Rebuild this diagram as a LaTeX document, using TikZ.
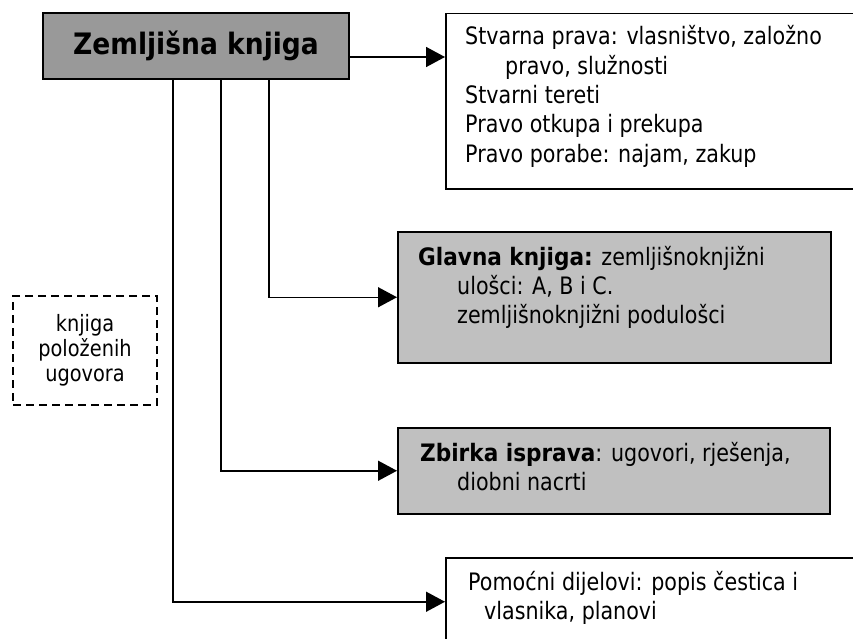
\documentclass[tikz,border=0pt]{standalone}
\usepackage{fontspec}
\setmainfont{DejaVu Sans}[FakeStretch=0.86, BoldFeatures={FakeStretch=0.9}]
\usetikzlibrary{arrows.meta}

\definecolor{darkfill}{HTML}{999999}
\definecolor{lightfill}{HTML}{C0C0C0}

\tikzset{
  box/.style={draw=black, line width=1.5pt, rectangle, inner sep=0pt},
  dashbox/.style={draw=black, line width=1.3pt, dash pattern=on 8pt off 5pt, rectangle, inner sep=0pt},
  conn/.style={line width=1.5pt, -{Triangle[length=19pt,width=20pt]}},
  body/.style={font=\fontsize{24}{29.3}\selectfont, inner sep=0pt, anchor=base west},
}

\begin{document}
\begin{tikzpicture}[x=1pt,y=-1pt]
\clip (0,0) rectangle (853,639);
\fill[white] (0,0) rectangle (853,639);

% main heading box
\node[box, fill=darkfill, minimum width=306pt, minimum height=66pt,
      font=\fontsize{29.5}{36}\selectfont\bfseries] (main) at (196,46) {Zemljišna knjiga};

% content boxes
\node[box, anchor=north west, minimum width=440pt, minimum height=175pt] (stv) at (445,13) {};
\node[box, fill=lightfill, anchor=north west, minimum width=433pt, minimum height=131pt] (glav) at (397,231) {};
\node[box, fill=lightfill, anchor=north west, minimum width=432pt, minimum height=86pt] (zbir) at (397,427) {};
\node[box, anchor=north west, minimum width=440pt, minimum height=88pt] (pom) at (445,557) {};

% side note box
\node[dashbox, minimum width=144pt, minimum height=109pt, align=center,
      font=\fontsize{22.5}{25}\selectfont] (knj) at (85,350.5) {knjiga\\položenih\\ugovora};

% box texts
\node[body] (stvtext) at (465,45) {\parbox[t]{400pt}{\parindent=0pt
  Stvarna prava: vlasništvo, založno\par
  \hspace*{40pt}pravo, služnosti\par
  Stvarni tereti\par
  Pravo otkupa i prekupa\par
  Pravo porabe: najam, zakup}};

\node[body] (glavtext) at (418,265) {\parbox[t]{400pt}{\parindent=0pt
  \textbf{Glavna knjiga:} zemljišnoknjižni\par
  \hspace*{39pt}ulošci: A, B i C.\par
  \hspace*{39pt}zemljišnoknjižni podulošci}};

\node[body] (zbirtext) at (420,461) {\parbox[t]{400pt}{\parindent=0pt
  \textbf{Zbirka isprava}: ugovori, rješenja,\par
  \hspace*{37pt}diobni nacrti}};

\node[body] (pomtext) at (468,590) {\parbox[t]{400pt}{\parindent=0pt
  Pomoćni dijelovi: popis čestica i\par
  \hspace*{16pt}vlasnika, planovi}};

% connectors
\draw[conn] (main.east |- 0,57) -- (stv.west |- 0,57);
\draw[conn] (main.south -| 269,0) |- (glav.west);
\draw[conn] (main.south -| 221,0) |- (zbir.west);
\draw[conn] (main.south -| 173,0) |- (pom.west);
\end{tikzpicture}
\end{document}
